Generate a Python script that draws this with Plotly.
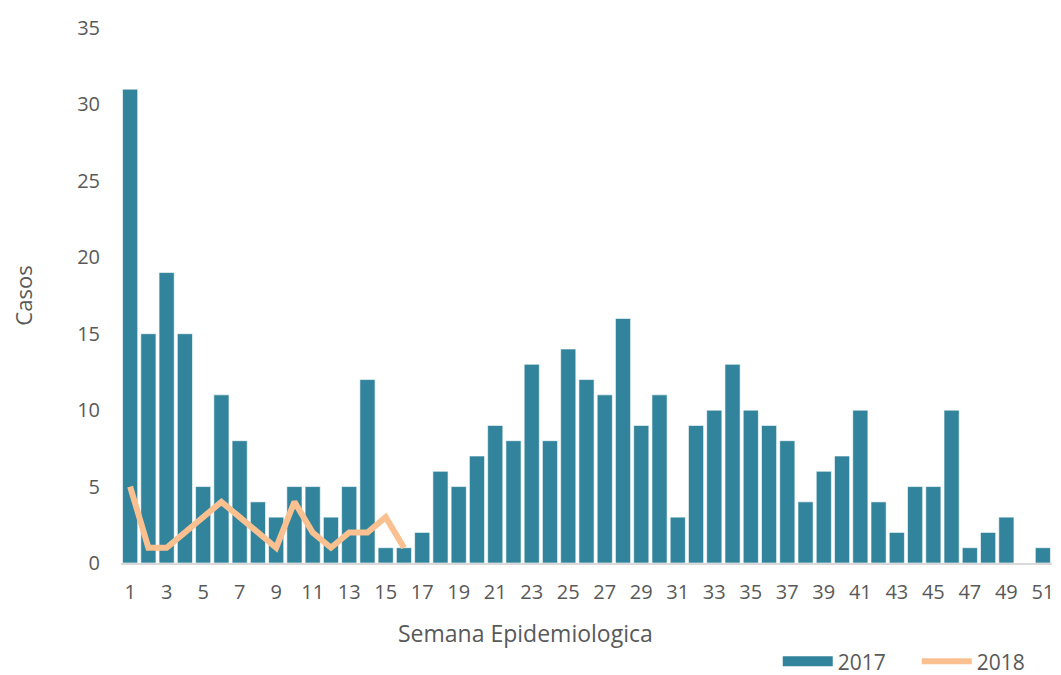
import plotly.graph_objects as go

weeks = list(range(1, 52))
casos_2017 = [31, 15, 19, 15, 5, 11, 8, 4, 3, 5, 5, 3, 5, 12, 1, 1, 2, 6, 5, 7,
              9, 8, 13, 8, 14, 12, 11, 16, 9, 11, 3, 9, 10, 13, 10, 9, 8, 4, 6, 7,
              10, 4, 2, 5, 5, 10, 1, 2, 3, 0, 1]
weeks_2018 = list(range(1, 17))
casos_2018 = [5, 1, 1, 2, 3, 4, 3, 2, 1, 4, 2, 1, 2, 2, 3, 1]
tick_vals = list(range(1, 52, 2))
y_ticks = [0, 5, 10, 15, 20, 25, 30, 35]

font_family = "'Open Sans', sans-serif"
gray = "#595959"
teal = "#31849B"
peach = "#FAC090"

fig = go.Figure()
fig.add_trace(go.Bar(
    x=weeks, y=casos_2017, name="2017", legendgroup="2017", showlegend=False,
    marker=dict(color=teal, line=dict(color="rgba(255,255,255,0.6)", width=1)),
))
# legend proxy to show a wide rectangular swatch like the reference
fig.add_trace(go.Scatter(
    x=[None], y=[None], name="2017", legendgroup="2017", mode="lines",
    line=dict(color=teal, width=14), hoverinfo="skip",
))
fig.add_trace(go.Scatter(
    x=weeks_2018, y=casos_2018, name="2018", mode="lines",
    line=dict(color=peach, width=6),
))

fig.add_annotation(
    text="Semana Epidemiologica", xref="paper", yref="paper",
    x=0.434, y=-0.131, xanchor="center", yanchor="middle", showarrow=False,
    font=dict(size=23, color=gray, family=font_family),
)

fig.update_layout(
    width=1053, height=667,
    margin=dict(l=113, r=9, t=20, b=112, autoexpand=False),
    plot_bgcolor="white", paper_bgcolor="white",
    bargap=0.17,
    font=dict(family=font_family, color=gray, size=20),
    showlegend=True,
    legend=dict(orientation="h", xref="container", x=0.731, xanchor="left",
                yref="container", y=0.02, yanchor="middle",
                font=dict(size=21, color=gray), itemwidth=50, tracegroupgap=0,
                entrywidth=74, entrywidthmode="pixels"),
    xaxis=dict(
        tickmode="array", tickvals=tick_vals, ticktext=[str(v) for v in tick_vals],
        range=[0.5, 51.5], showgrid=False, showline=True, linecolor="#D9D9D9",
        linewidth=2, ticks="", tickfont=dict(size=20, color=gray),
        ticklabelstandoff=10, automargin=False,
        zeroline=False,
    ),
    yaxis=dict(
        range=[0, 35], tickvals=y_ticks, showgrid=False, showline=False, ticks="",
        zeroline=False, tickfont=dict(size=20, color=gray),
        ticklabelstandoff=20, automargin=False,
        title=dict(text="Casos", font=dict(size=22, color=gray), standoff=46),
    ),
)

fig.write_html("out.html")
